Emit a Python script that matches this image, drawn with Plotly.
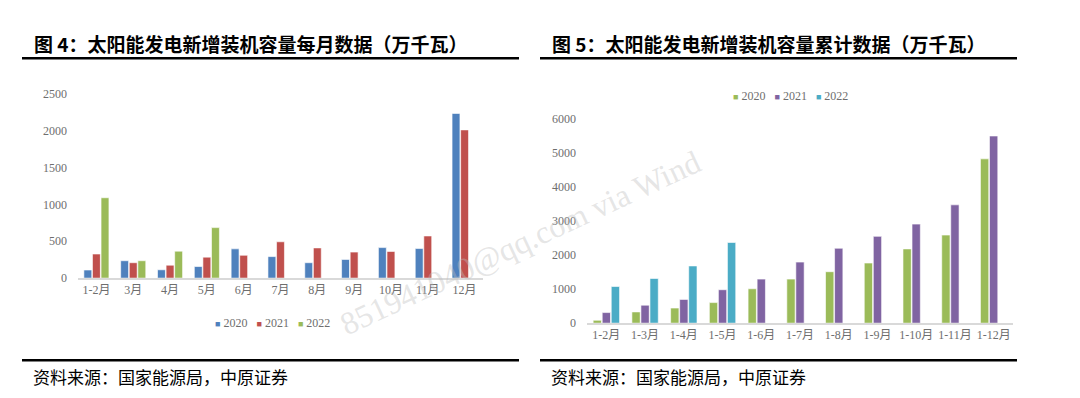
import plotly.graph_objects as go

W, H = 1080, 398

# ---------- data ----------
months_left = ["1-2月", "3月", "4月", "5月", "6月", "7月", "8月", "9月", "10月", "11月", "12月"]
m2020 = [110, 236, 113, 157, 397, 292, 209, 253, 414, 401, 2234]
m2021 = [327, 209, 175, 284, 310, 493, 410, 353, 362, 572, 2011]
m2022 = [1090, 236, 366, 685, None, None, None, None, None, None, None]

months_right = ["1-2月", "1-3月", "1-4月", "1-5月", "1-6月", "1-7月", "1-8月", "1-9月", "1-10月", "1-11月", "1-12月"]
c2020 = [85, 331, 445, 605, 1012, 1296, 1514, 1769, 2185, 2592, 4834]
c2021 = [312, 530, 700, 984, 1296, 1797, 2204, 2554, 2914, 3481, 5506]
c2022 = [1078, 1315, 1684, 2374, None, None, None, None, None, None, None]

series_names = ["2020", "2021", "2022"]
title_left = "图 4：太阳能发电新增装机容量每月数据（万千瓦）"
title_right = "图 5：太阳能发电新增装机容量累计数据（万千瓦）"
source_text = "资料来源：国家能源局，中原证券"
watermark = "851941040@qq.com via Wind"

# ---------- helpers ----------
def px(x):
    return x / W

def py(y):
    return 1 - y / H

SERIF = "Liberation Serif, Noto Sans CJK SC"
TICK_COLOR = "#6E6E6E"
BLUE, RED, GREEN = "#4F81BD", "#C0504D", "#9BBB59"
PURPLE, TEAL = "#8064A2", "#4BACC6"
left_colors = [BLUE, RED, GREEN]
right_colors = [GREEN, PURPLE, TEAL]

fig = go.Figure()

def bar(x, y, name, color, xa, ya):
    return go.Bar(x=x, y=y, name=name,
                  marker=dict(color=color, line=dict(color="rgba(255,255,255,0.6)", width=1)),
                  xaxis=xa, yaxis=ya, showlegend=False)

for vals, name, col in zip([m2020, m2021, m2022], series_names, left_colors):
    fig.add_trace(bar(months_left, vals, name, col, "x", "y"))
for vals, name, col in zip([c2020, c2021, c2022], series_names, right_colors):
    fig.add_trace(bar(months_right, vals, name, col, "x2", "y2"))

tickfont = dict(family=SERIF, size=12, color=TICK_COLOR)

fig.update_layout(
    width=W, height=H,
    margin=dict(l=0, r=0, t=0, b=0),
    paper_bgcolor="white", plot_bgcolor="white",
    barmode="group", bargap=0.3, bargroupgap=0.08,
    xaxis=dict(domain=[px(78), px(483)], anchor="y", showline=True, linecolor="#D9D9D9", linewidth=1.5,
               ticks="", tickfont=tickfont, showgrid=False),
    yaxis=dict(domain=[py(281), py(90)], anchor="x", range=[0, 2500], dtick=500, showline=False,
               showgrid=False, zeroline=False, ticks="", tickfont=tickfont, ticklabelstandoff=10),
    xaxis2=dict(domain=[px(587), px(1013)], anchor="y2", showline=True, linecolor="#D9D9D9", linewidth=1.5,
                ticks="", tickfont=tickfont, showgrid=False),
    yaxis2=dict(domain=[py(327.7), py(116.3)], anchor="x2", range=[0, 6000], dtick=1000, showline=False,
                showgrid=False, zeroline=False, ticks="", tickfont=tickfont, ticklabelstandoff=10),
    showlegend=False,
)

shapes = []
for x0, x1 in [(22, 519), (540, 1017)]:
    shapes.append(dict(type="line", xref="paper", yref="paper", x0=px(x0), x1=px(x1), y0=py(53), y1=py(53),
                       line=dict(color="black", width=2.5)))
    shapes.append(dict(type="line", xref="paper", yref="paper", x0=px(x0), x1=px(x1), y0=py(366), y1=py(366),
                       line=dict(color="black", width=2.5)))
fig.update_layout(shapes=shapes)

def legend_text(colors):
    parts = []
    for n, c in zip(series_names, colors):
        parts.append(f"<span style='color:{c};font-size:9px'>■</span> {n}")
    return "&nbsp;&nbsp; ".join(parts)

anns = []
for x0, t in [(32, title_left), (550, title_right)]:
    anns.append(dict(text="<b>" + t + "</b>", xref="paper", yref="paper", x=px(x0), y=py(38), xanchor="left",
                     yanchor="middle", showarrow=False,
                     font=dict(family="Noto Sans CJK SC", size=19, color="black")))
    anns.append(dict(text=source_text, xref="paper", yref="paper", x=px(x0 - 1), y=py(383), xanchor="left",
                     yanchor="middle", showarrow=False,
                     font=dict(family="Noto Sans CJK SC", size=17, color="black")))
anns.append(dict(text=legend_text(left_colors), xref="paper", yref="paper", x=px(213), y=py(328),
                 xanchor="left", yanchor="middle", showarrow=False,
                 font=dict(family=SERIF, size=12, color=TICK_COLOR)))
anns.append(dict(text=legend_text(right_colors), xref="paper", yref="paper", x=px(731), y=py(92),
                 xanchor="left", yanchor="middle", showarrow=False,
                 font=dict(family=SERIF, size=12, color=TICK_COLOR)))
anns.append(dict(text=watermark, xref="paper", yref="paper", x=px(520), y=py(245), xanchor="center",
                 yanchor="middle", showarrow=False, textangle=-25,
                 font=dict(family="Liberation Serif", size=32, color="rgba(190,190,190,0.4)")))
fig.update_layout(annotations=anns)

fig.write_html("out.html", config={"displayModeBar": False},
               post_script="document.body.style.margin='0';")
